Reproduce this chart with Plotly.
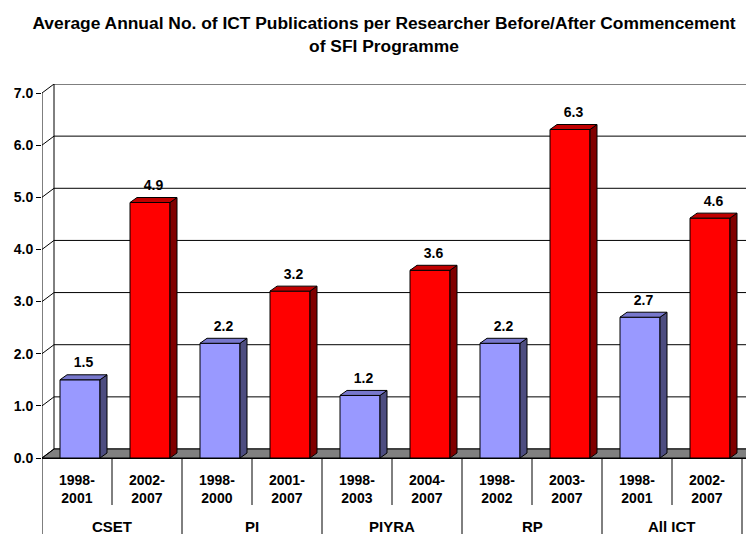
import plotly.graph_objects as go

# ---- data ----
programmes = ["CSET", "PI", "PIYRA", "RP", "All ICT"]
periods = ["1998-<br>2001", "2002-<br>2007", "1998-<br>2000", "2001-<br>2007", "1998-<br>2003",
           "2004-<br>2007", "1998-<br>2002", "2003-<br>2007", "1998-<br>2001", "2002-<br>2007"]
values = [1.5, 4.9, 2.2, 3.2, 1.2, 3.6, 2.2, 6.3, 2.7, 4.6]
phase = ["before", "after"] * 5
y_ticks = [0, 1, 2, 3, 4, 5, 6, 7]
y_ticktext = ["0.0", "1.0", "2.0", "3.0", "4.0", "5.0", "6.0", "7.0"]
title = "Average Annual No. of ICT Publications per Researcher Before/After Commencement<br>of SFI Programme"

# ---- styling ----
FONT = "Liberation Sans, Arial, sans-serif"
front_col = {"before": "#9999FF", "after": "#FF0000"}
side_col = {"before": "#4D4D80", "after": "#800000"}
top_col = {"before": "#7777CC", "after": "#C00000"}

PX_X = 70.0            # pixels per category
PX_Y = 365.0 / 7.0     # pixels per unit
DXB, DYB = 12 / PX_X, 9 / PX_Y      # depth of back wall
DX, DY = 7 / PX_X, 5 / PX_Y         # depth of bars
HW = 20 / PX_X                      # half bar width
SH = 3 / PX_X                       # bars sit slightly right of category centre
LBL = 4 / PX_Y                      # extra gap above bar for value labels
YTOP = 7 + DYB
XR = [-0.5, 9.5 + 4 / PX_X]

n = len(values)
xs = list(range(n))

fig = go.Figure()

fig.add_trace(go.Bar(
    x=xs, y=values,
    marker=dict(color=[front_col[p] for p in phase], line=dict(color="black", width=1)),
    width=2 * HW, offset=-HW + SH, showlegend=False, hoverinfo="y",
))

# 3D side and top faces computed from data
for ph in ["before", "after"]:
    sx, sy, tx, ty = [], [], [], []
    for i, v, p in zip(xs, values, phase):
        if p != ph:
            continue
        c = i + SH
        sx += [c + HW, c + HW + DX, c + HW + DX, c + HW, c + HW, None]
        sy += [0, DY, v + DY, v, 0, None]
        tx += [c - HW, c - HW + DX, c + HW + DX, c + HW, c - HW, None]
        ty += [v, v + DY, v + DY, v, v, None]
    fig.add_trace(go.Scatter(x=sx, y=sy, fill="toself", fillcolor=side_col[ph], mode="lines",
                             line=dict(color="black", width=1), showlegend=False, hoverinfo="skip"))
    fig.add_trace(go.Scatter(x=tx, y=ty, fill="toself", fillcolor=top_col[ph], mode="lines",
                             line=dict(color="black", width=1), showlegend=False, hoverinfo="skip"))

# value labels
fig.add_trace(go.Scatter(
    x=[i + SH + DX / 2 for i in xs], y=[v + DY + LBL for v in values],
    mode="text", text=[f"{v:.1f}" for v in values], textposition="top center",
    textfont=dict(family=FONT, size=14, color="black", weight="bold"),
    showlegend=False, hoverinfo="skip", cliponaxis=False,
))

shapes = []
# back wall gridlines
for t in y_ticks:
    shapes.append(dict(type="line", xref="x", yref="y", layer="below",
                       x0=-0.5 + DXB, x1=XR[1] + 1, y0=t + DYB, y1=t + DYB,
                       line=dict(color="black", width=1)))
# back wall left edge
shapes.append(dict(type="line", xref="x", yref="y", layer="below",
                   x0=-0.5 + DXB, x1=-0.5 + DXB, y0=DYB, y1=7 + DYB,
                   line=dict(color="black", width=1)))
# floor
shapes.append(dict(type="path", xref="x", yref="y", layer="below",
                   path=f"M -0.5,0 L {-0.5 + DXB},{DYB} L {XR[1] + 1},{DYB} L {XR[1] + 1},0 Z",
                   fillcolor="#808080", line=dict(color="black", width=1)))
# side wall: front axis line and diagonals
shapes.append(dict(type="line", xref="x", yref="y", layer="above",
                   x0=-0.5, x1=-0.5, y0=0, y1=7, line=dict(color="black", width=1)))
for t in y_ticks:
    shapes.append(dict(type="line", xref="x", yref="y", layer="above",
                       x0=-0.5, x1=-0.5 + DXB, y0=t, y1=t + DYB,
                       line=dict(color="black", width=1)))

# category dividers below the axis
for i in xs:
    b = i - 0.5
    long = (i % 2 == 0)
    shapes.append(dict(type="line", xref="x", yref="paper", ysizemode="pixel", yanchor=0,
                       x0=b, x1=b, y0=0, y1=-80 if long else -47,
                       line=dict(color="black", width=1)))
shapes.append(dict(type="line", xref="x", yref="paper", ysizemode="pixel", yanchor=0,
                   x0=n - 0.5, x1=n - 0.5, y0=0, y1=-80, line=dict(color="black", width=1)))

annotations = []
for i in xs:
    annotations.append(dict(x=i, xref="x", y=0, yref="paper", yanchor="middle", yshift=-31,
                            text=periods[i], showarrow=False,
                            font=dict(family=FONT, size=14, color="black", weight="bold")))
for g, name in enumerate(programmes):
    annotations.append(dict(x=2 * g + 0.5, xref="x", y=0, yref="paper", yanchor="middle",
                            yshift=-68, text=name, showarrow=False,
                            font=dict(family=FONT, size=15, color="black", weight="bold")))

fig.update_layout(
    width=746, height=534,
    margin=dict(l=42, r=0, t=84, b=76, autoexpand=False),
    paper_bgcolor="white", plot_bgcolor="white",
    font=dict(family=FONT, size=14, color="black", weight="bold"),
    title=dict(text=title, x=384 / 746, xanchor="center", xref="container",
               y=1 - 29 / 534, yanchor="top", yref="container",
               font=dict(family=FONT, size=17.4, color="black", weight="bold")),
    shapes=shapes, annotations=annotations,
    xaxis=dict(range=XR, showline=True, linecolor="black", linewidth=1, showticklabels=False,
               ticks="", showgrid=False, zeroline=False, automargin=False, fixedrange=True),
    yaxis=dict(range=[0, YTOP], tickvals=y_ticks, ticktext=y_ticktext,
               ticks="outside", ticklen=5, tickcolor="black", showline=False,
               showgrid=False, zeroline=False, automargin=False, fixedrange=True,
               tickfont=dict(family=FONT, size=14, color="black", weight="bold")),
)

fig.write_html("out.html", config={"displayModeBar": False},
               post_script="document.body.style.margin='0';document.body.style.overflow='hidden';")
